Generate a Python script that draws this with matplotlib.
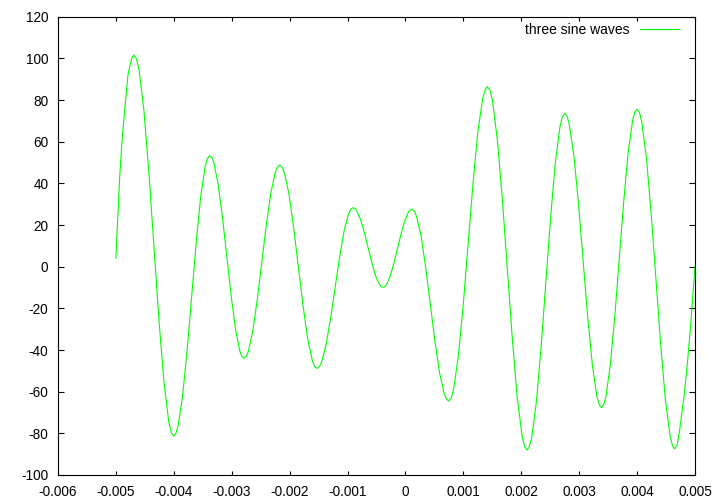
import matplotlib
matplotlib.use("Agg")
import matplotlib.pyplot as plt

plt.rcParams['font.family'] = ['Liberation Sans', 'DejaVu Sans']
plt.rcParams['axes.unicode_minus'] = False

# curve (x in units of 1e-3)
x_ms = [-5.000, -4.935, -4.890, -4.849, -4.792, -4.745, -4.716,
        -4.687, -4.644, -4.601, -4.516, -4.430, -4.345, -4.259, -4.173, -4.088, -4.045,
        -4.002, -3.963, -3.924, -3.847, -3.769, -3.691, -3.613, -3.536, -3.458, -3.419,
        -3.380, -3.343, -3.306, -3.232, -3.158, -3.084, -3.010, -2.936, -2.862, -2.825,
        -2.788, -2.749, -2.711, -2.634, -2.557, -2.480, -2.402, -2.325, -2.248, -2.210,
        -2.171, -2.131, -2.091, -2.010, -1.930, -1.849, -1.769, -1.688, -1.608, -1.567,
        -1.527, -1.488, -1.449, -1.372, -1.294, -1.216, -1.138, -1.061, -0.983, -0.944,
        -0.905, -0.873, -0.840, -0.776, -0.711, -0.646, -0.581, -0.517, -0.452, -0.419,
        -0.387, -0.356, -0.324, -0.262, -0.199, -0.137, -0.074, -0.011, 0.051, 0.083,
        0.114, 0.154, 0.193, 0.273, 0.352, 0.431, 0.510, 0.590, 0.669, 0.708,
        0.748, 0.790, 0.832, 0.915, 0.999, 1.082, 1.166, 1.249, 1.333, 1.375,
        1.416, 1.459, 1.502, 1.587, 1.673, 1.758, 1.844, 1.929, 2.015, 2.057,
        2.100, 2.141, 2.181, 2.263, 2.344, 2.426, 2.507, 2.588, 2.670, 2.710,
        2.751, 2.791, 2.830, 2.910, 2.989, 3.068, 3.147, 3.227, 3.306, 3.345,
        3.385, 3.423, 3.462, 3.539, 3.616, 3.693, 3.769, 3.846, 3.923, 3.962,
        4.000, 4.041, 4.081, 4.163, 4.244, 4.326, 4.407, 4.488, 4.570, 4.610,
        4.651, 4.692, 4.737, 4.812, 4.870, 4.922, 4.974, 5.000]
y_vals = [4.0, 43.0, 62.0, 75.0, 92.0, 98.1, 100.8,
          101.6, 99.8, 94.6, 74.9, 45.1, 10.2, -24.8, -54.6, -74.4, -79.5,
          -81.3, -80.0, -76.2, -61.6, -39.7, -14.0, 11.7, 33.6, 48.2, 52.0,
          53.3, 52.4, 49.6, 39.1, 23.2, 4.7, -13.9, -29.8, -40.3, -43.1,
          -44.0, -43.1, -40.5, -30.5, -15.3, 2.4, 20.1, 35.3, 45.3, 47.9,
          48.8, 47.9, 45.1, 34.6, 18.6, 0.0, -18.6, -34.6, -45.1, -47.9,
          -48.8, -48.1, -45.9, -37.5, -25.0, -10.3, 4.5, 17.0, 25.4, 27.6,
          28.3, 27.9, 26.8, 22.7, 16.5, 9.2, 1.9, -4.3, -8.4, -9.5,
          -9.9, -9.5, -8.5, -4.4, 1.7, 8.9, 16.0, 22.1, 26.2, 27.2,
          27.6, 26.7, 24.1, 14.2, -0.9, -18.5, -36.0, -51.1, -61.0, -63.6,
          -64.5, -63.1, -58.8, -42.5, -17.9, 11.0, 39.8, 64.4, 80.7, 84.9,
          86.4, 84.7, 79.8, 60.9, 32.5, -0.8, -34.1, -62.5, -81.4, -86.3,
          -88.0, -86.4, -81.9, -64.4, -38.1, -7.2, 23.7, 50.0, 67.5, 72.0,
          73.6, 72.2, 68.2, 53.0, 29.9, 3.0, -24.0, -47.1, -62.3, -66.3,
          -67.7, -66.3, -62.3, -46.8, -23.4, 4.0, 31.3, 54.7, 70.2, 74.2,
          75.6, 74.0, 69.4, 51.8, 25.2, -6.0, -37.1, -63.7, -81.3, -85.9,
          -87.5, -85.5, -78.0, -62.0, -46.0, -29.0, -10.0, 0.0]
x_vals = [v * 1e-3 for v in x_ms]

x_ticks = [-0.006, -0.005, -0.004, -0.003, -0.002, -0.001,
           0, 0.001, 0.002, 0.003, 0.004, 0.005]
y_ticks = [-100, -80, -60, -40, -20, 0, 20, 40, 60, 80, 100, 120]

fig = plt.figure(figsize=(7.2, 5.04), dpi=100)
ax = fig.add_axes([58 / 720, 1 - 475 / 504, 637 / 720, 458.3 / 504])

ax.plot(x_vals, y_vals, color='#00ff00', lw=0.8, label='three sine waves')

ax.set_xlim(-0.006, 0.005)
ax.set_ylim(-100, 120)
ax.set_xticks(x_ticks)
ax.set_yticks(y_ticks)
ax.set_xticklabels(['%g' % t for t in x_ticks])
ax.set_yticklabels(['%g' % t for t in y_ticks])

ax.tick_params(direction='in', top=True, right=True, labelsize=9.8,
               width=0.8, color='black')
ax.tick_params(axis='x', length=3, pad=7.5)
ax.tick_params(axis='y', length=4.3, pad=7)
for s in ax.spines.values():
    s.set_linewidth(0.8)

ax.legend(loc='upper right', markerfirst=False, frameon=False, fontsize=10,
          handlelength=2.8, handletextpad=0.75, borderpad=0, borderaxespad=0,
          bbox_to_anchor=(1 - 16 / 637, 1 - 6 / 458))

fig.savefig('out.png', dpi=100)
